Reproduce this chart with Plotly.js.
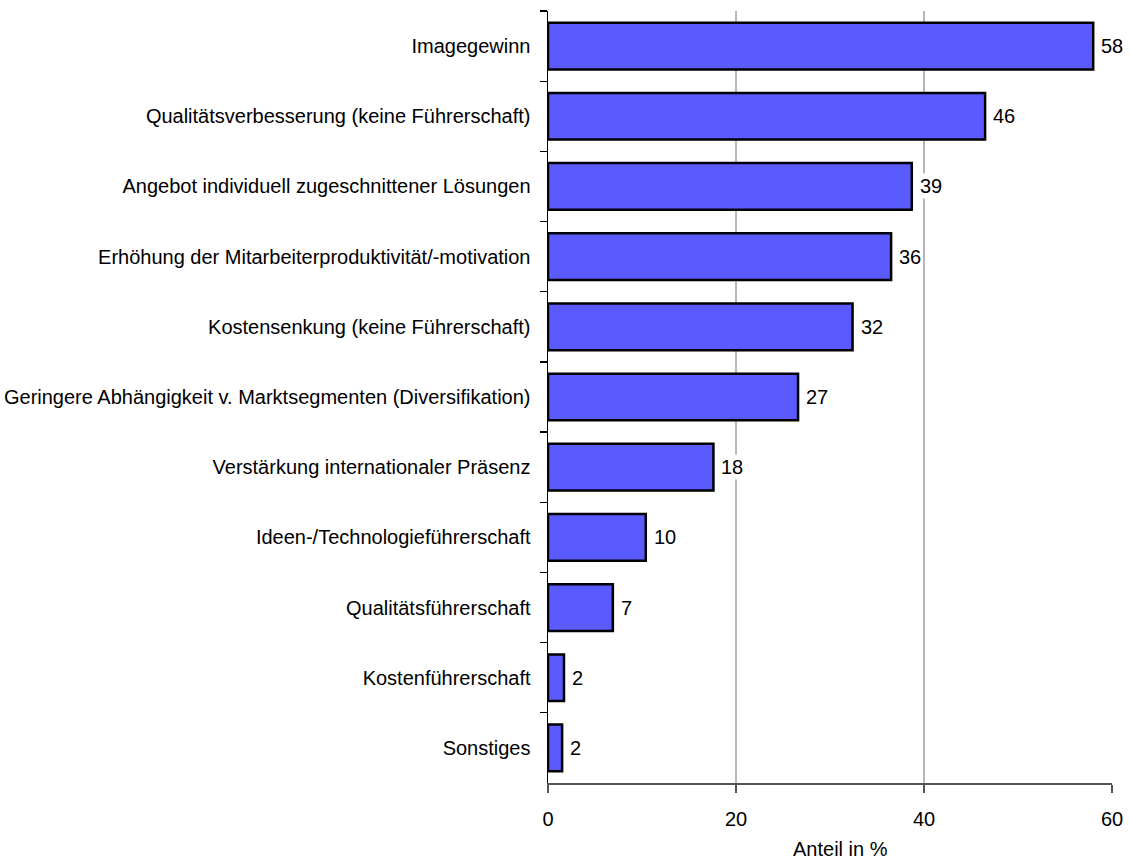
<!DOCTYPE html>
<html>
<head>
<meta charset="utf-8">
<script src="https://cdn.plot.ly/plotly-3.0.1.min.js"></script>
<style>html,body{margin:0;padding:0;background:#fff;}#chart{width:1130px;height:859px;}</style>
</head>
<body>
<div id="chart"></div>
<script>
const categories = [
  "Imagegewinn",
  "Qualitätsverbesserung (keine Führerschaft)",
  "Angebot individuell zugeschnittener Lösungen",
  "Erhöhung der Mitarbeiterproduktivität/-motivation",
  "Kostensenkung (keine Führerschaft)",
  "Geringere Abhängigkeit v. Marktsegmenten (Diversifikation)",
  "Verstärkung internationaler Präsenz",
  "Ideen-/Technologieführerschaft",
  "Qualitätsführerschaft",
  "Kostenführerschaft",
  "Sonstiges"
];
const values = [58.0, 46.5, 38.7, 36.5, 32.4, 26.6, 17.6, 10.4, 6.9, 1.7, 1.5];
const valueLabels = ["58", "46", "39", "36", "32", "27", "18", "10", "7", "2", "2"];
const xTicks = [0, 20, 40, 60];
const gridTicks = [20, 40];
const xTitle = "Anteil in %";

const FONT = '"Liberation Sans", Arial, sans-serif';
const FS = 20;

const trace = {
  type: 'bar',
  orientation: 'h',
  x: values,
  y: categories,
  marker: {color: '#5a5aff', line: {color: '#000000', width: 2.5}},
  hoverinfo: 'none'
};

const annotations = values.map((v, i) => ({
  x: v, y: categories[i], xref: 'x', yref: 'y',
  text: valueLabels[i], showarrow: false,
  xanchor: 'left', yanchor: 'middle', xshift: 6,
  bgcolor: '#ffffff', borderpad: 1,
  font: {family: FONT, size: FS, color: '#000'}
}));
annotations.push({
  x: 0.5, y: 0, xref: 'paper', yref: 'paper',
  text: xTitle, showarrow: false,
  xanchor: 'center', yanchor: 'top', xshift: 10, yshift: -53,
  font: {family: FONT, size: FS, color: '#000'}
});

const shapes = gridTicks.map(g => ({
  type: 'line', xref: 'x', yref: 'paper', x0: g, x1: g, y0: 0, y1: 1,
  line: {color: '#707070', width: 1}, layer: 'below'
}));

const layout = {
  width: 1130, height: 859,
  margin: {l: 548, r: 18, t: 11, b: 76, pad: 0},
  paper_bgcolor: '#fff', plot_bgcolor: '#fff',
  showlegend: false,
  bargap: 0.335,
  font: {family: FONT, size: FS, color: '#000'},
  xaxis: {
    range: [0, 60], tickvals: xTicks, ticktext: xTicks.map(String),
    showgrid: false, zeroline: false,
    showline: true, linecolor: '#555', linewidth: 1.5,
    ticks: 'outside', ticklen: 8, tickcolor: '#555', tickwidth: 1.5,
    ticklabelstandoff: 9,
    fixedrange: true
  },
  yaxis: {
    autorange: 'reversed', type: 'category',
    showgrid: false, zeroline: false,
    showline: true, linecolor: '#000', linewidth: 1.5,
    ticks: 'outside', ticklen: 7, tickcolor: '#000', tickwidth: 1.2,
    tickson: 'boundaries',
    ticklabelstandoff: 12,
    fixedrange: true
  },
  shapes: shapes,
  annotations: annotations
};

Plotly.newPlot('chart', [trace], layout, {displayModeBar: false, staticPlot: true});
</script>
</body>
</html>
